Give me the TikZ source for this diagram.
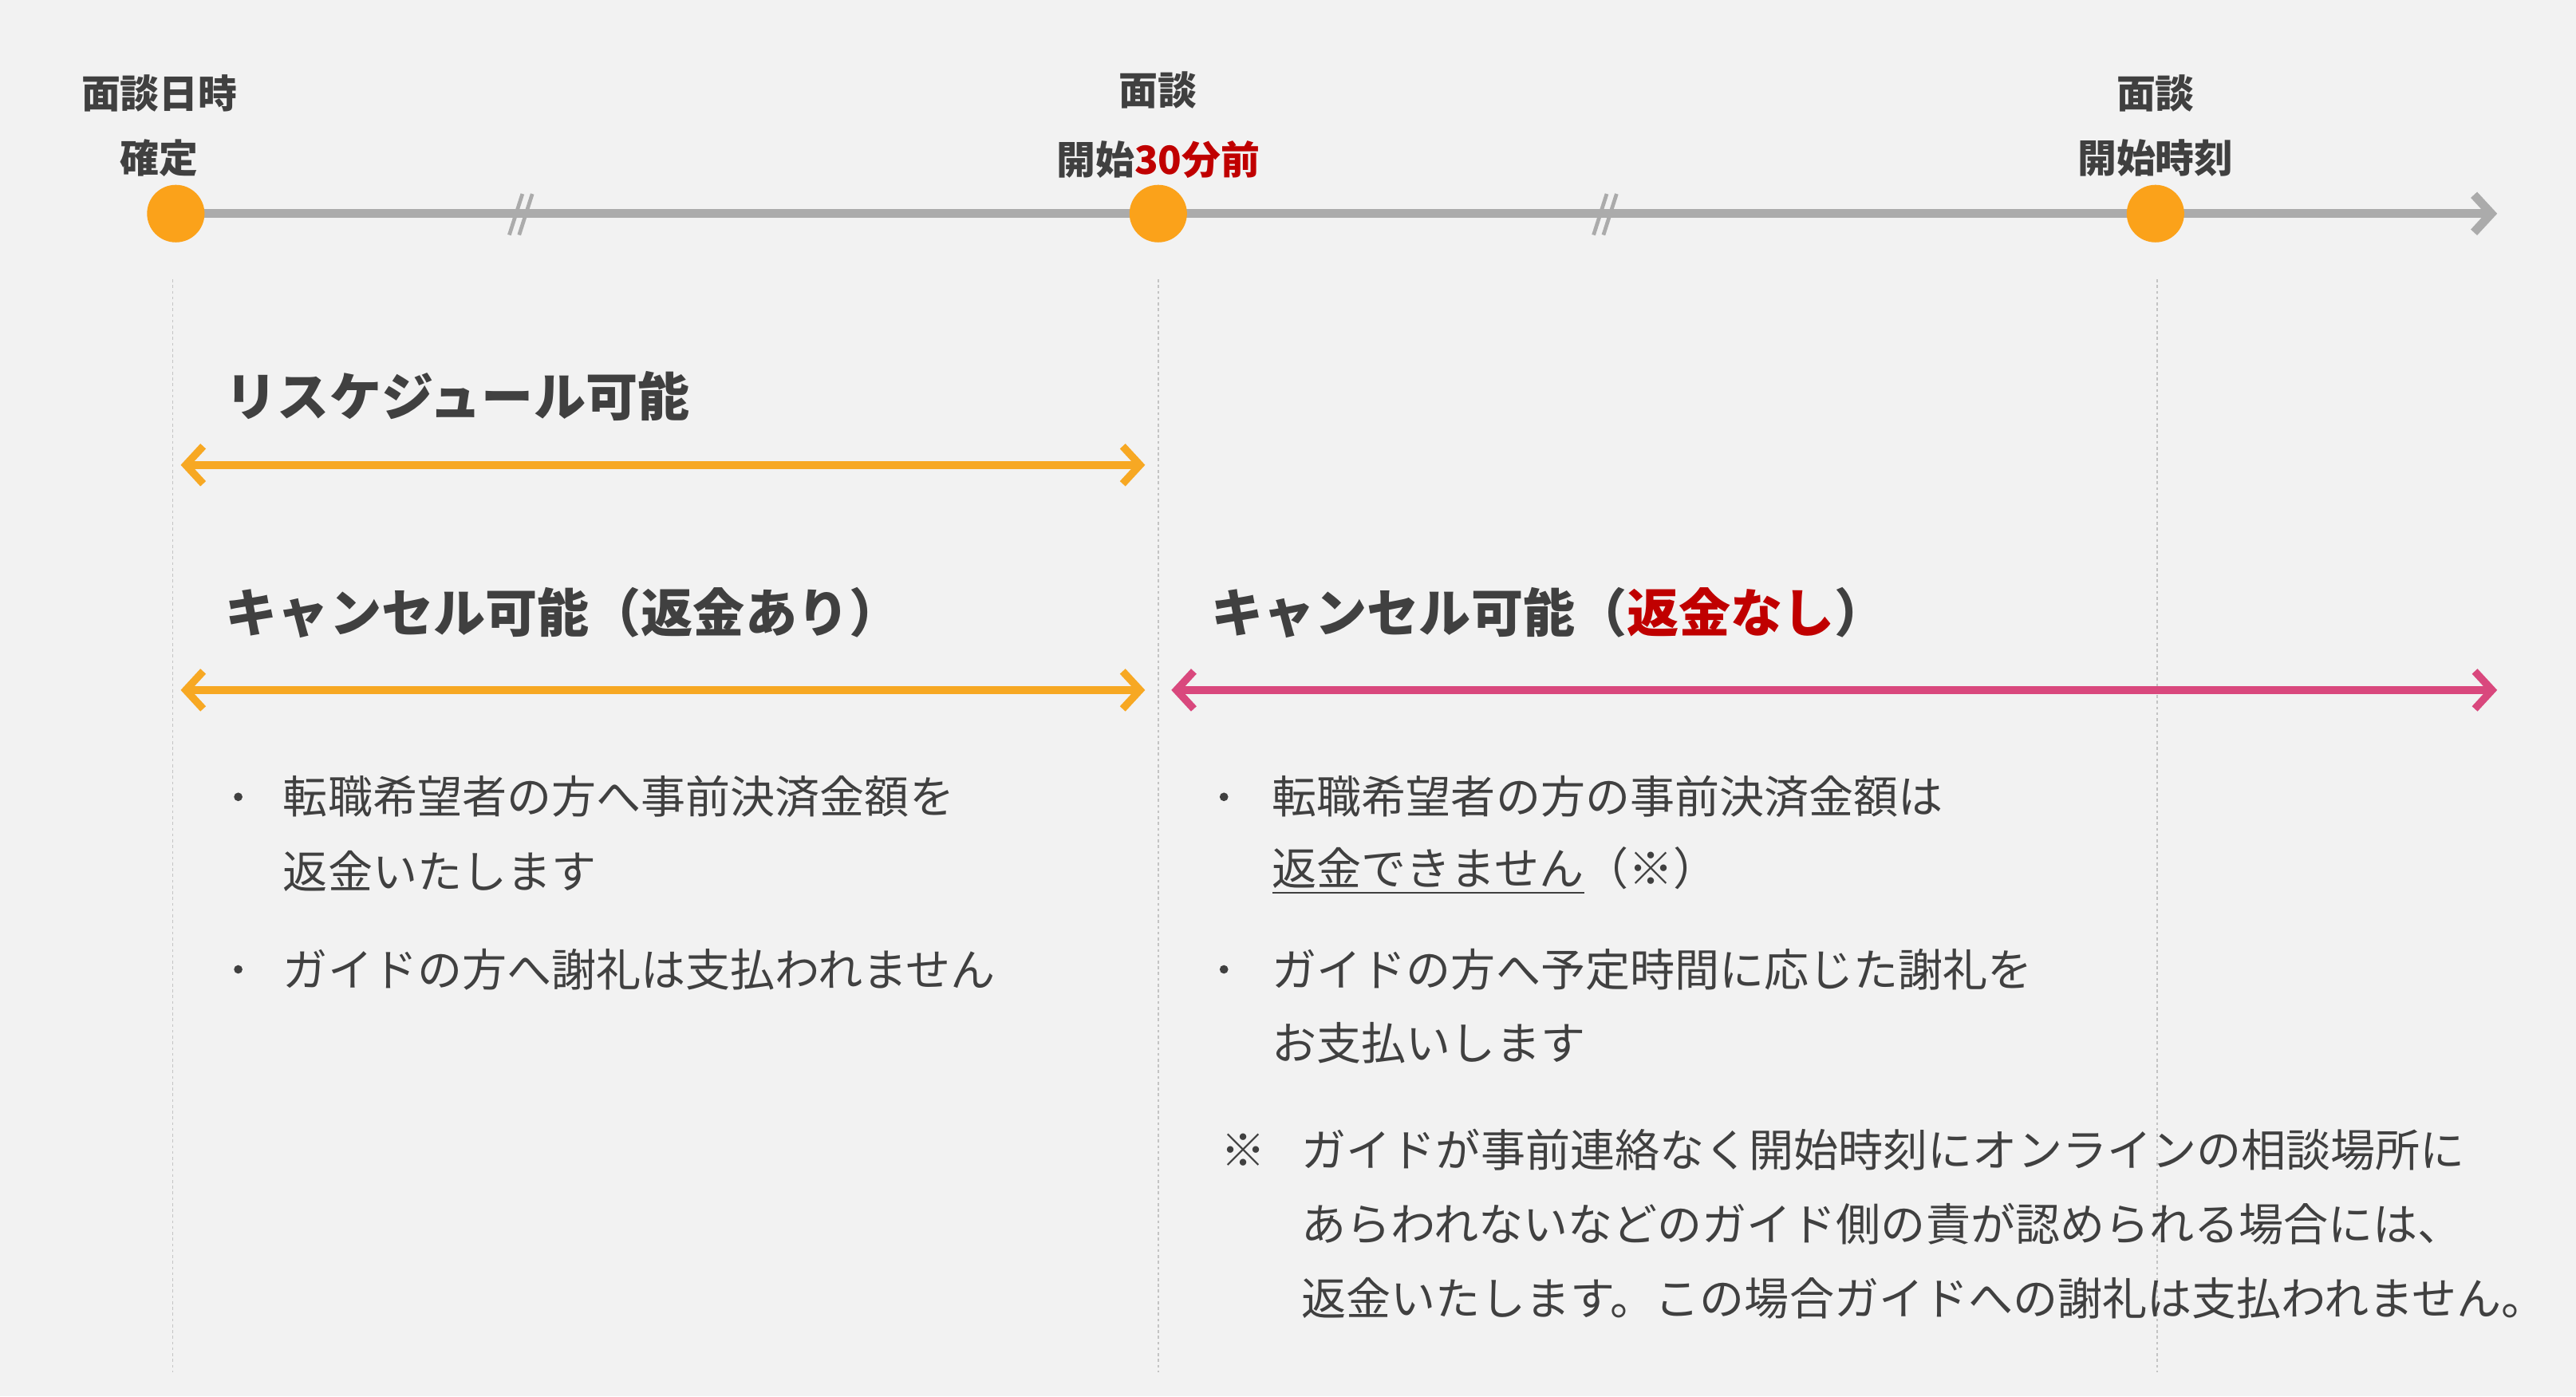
\documentclass[tikz,border=0pt]{standalone}
\usepackage{fontspec}
\setmainfont{Noto Sans CJK JP}
\usetikzlibrary{arrows.meta}
\definecolor{bg}{HTML}{F2F2F2}
\definecolor{tl}{HTML}{ABABAB}
\definecolor{dot}{HTML}{FBA21A}
\definecolor{org}{HTML}{F7A823}
\definecolor{pnk}{HTML}{D9487D}
\definecolor{rd}{HTML}{C00000}
\definecolor{txt}{HTML}{404040}
\begin{document}
\begin{tikzpicture}[x=0.02cm,y=-0.02cm,
  lbl/.style={font=\fontsize{13.5}{19}\selectfont\bfseries,text=txt,align=center,inner sep=0},
  head/.style={font=\fontsize{18}{22}\selectfont\bfseries,text=txt,anchor=west,inner sep=0},
  body/.style={font=\fontsize{15.5}{25.5}\selectfont,text=txt,anchor=west,inner sep=0},
  vline/.style={draw=tl!70,dashed,dash pattern=on 1pt off 1pt,line width=0.4pt},
  dotc/.style={circle,fill=dot,minimum size=0.7cm,inner sep=0},
  arr/.style={line width=2.6pt,{Straight Barb[length=6pt,width=13pt]}-{Straight Barb[length=6pt,width=13pt]}}]
\fill[bg] (0,0) rectangle (1568,850);
\useasboundingbox (0,0) rectangle (1568,850);
\foreach \x in {105,705,1313} \draw[vline] (\x,170) -- (\x,835);
\coordinate (t0) at (107,130); \coordinate (t1) at (1520,130);
\draw[tl,line width=3pt,-{Straight Barb[length=6pt,width=13pt]}] (t0) -- (t1);
\foreach \x in {318,978} \draw[tl,line width=1.3pt] (\x-8,143) -- (\x,118) (\x-2,143) -- (\x+6,118);
\node[dotc] (d1) at (107,130) {};
\node[dotc] (d2) at (705,130) {};
\node[dotc] (d3) at (1312,130) {};
\node[lbl] at (97,57) {面談日時};
\node[lbl] at (97,96) {確定};
\node[lbl] at (705,55) {面談};
\node[lbl] at (705,97) {開始{\color{rd}30分前}};
\node[lbl] at (1312,57) {面談};
\node[lbl] at (1312,96) {開始時刻};
\node[head] at (137,241) {リスケジュール可能};
\coordinate (a1) at (110,283); \coordinate (a2) at (697,283);
\draw[org,arr] (a1) -- (a2);
\node[head] at (137,373) {キャンセル可能（返金あり）};
\coordinate (b1) at (110,420); \coordinate (b2) at (697,420);
\draw[org,arr] (b1) -- (b2);
\node[head] at (737,373) {キャンセル可能（{\color{rd}返金なし}）};
\coordinate (c1) at (713,420); \coordinate (c2) at (1520,420);
\draw[pnk,arr] (c1) -- (c2);
\foreach \x/\y in {145/485,145/590,745/485,745/590} \fill[txt] (\x,\y) circle (2.6);
\node[body] at (172,485) {転職希望者の方へ事前決済金額を};
\node[body] at (172,530) {返金いたします};
\node[body] at (172,590) {ガイドの方へ謝礼は支払われません};
\node[body] at (774,485) {転職希望者の方の事前決済金額は};
\node[body] at (774,530) {\underline{返金できません}（※）};
\node[body] at (774,590) {ガイドの方へ予定時間に応じた謝礼を};
\node[body] at (774,635) {お支払いします};
\node[body] at (743,700) {※};
\node[body] at (792,700) {ガイドが事前連絡なく開始時刻にオンラインの相談場所に};
\node[body] at (792,745) {あらわれないなどのガイド側の責が認められる場合には、};
\node[body] at (792,790) {返金いたします。この場合ガイドへの謝礼は支払われません。};
\end{tikzpicture}
\end{document}
